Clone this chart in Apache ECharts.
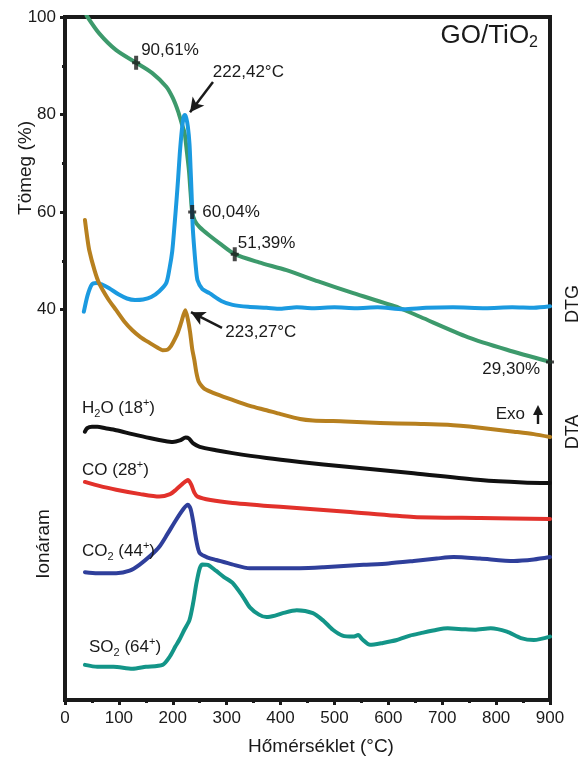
<!DOCTYPE html>
<html>
<head>
<meta charset="utf-8">
<script src="https://cdn.jsdelivr.net/npm/echarts@6/dist/echarts.min.js"></script>
<style>
  html, body { margin: 0; padding: 0; background: #fff; }
  #chart { width: 583px; height: 761px; }
</style>
</head>
<body>
<div id="chart"></div>
<script>
// Temperature axis and mass axis ticks
const xTicks = [0, 100, 200, 300, 400, 500, 600, 700, 800, 900];
const massTickLabels = [40, 60, 80, 100];
const massMinorTicks = [50, 70, 90];

// TG curve: [temperature °C, mass %]
const tgCurve = [[40,100.3],[63,96.7],[95,93.2],[132,90.61],[162,88.5],[188,85.7],[200,83.4],[210,80.6],[217,78],
  [222,76.2],[226,72.5],[230,68.5],[233,64],[236,60.04],[241,58.2],[250,56.9],[268,55.2],[287,53.6],[315,51.39],
  [360,49.7],[411,48.1],[470,45.8],[535,43.4],[620,40.4],[660,38.5],[747,34.4],[820,31.8],[900,29.3]];

// DTG curve (shifted onto the mass scale)
const dtgCurve = [[35,39.6],[42,43],[50,45.2],[58,45.5],[68,45.2],[82,44.4],[100,43.1],[115,42.3],[130,42],[145,42.1],
  [160,42.6],[175,43.8],[188,45.5],[194,48.5],[199,52],[203,57],[207,62.5],[210,67],[213,72],[217,77],[220,79.4],
  [222.42,79.9],[225,79.3],[228,77.5],[231,74],[233,69],[235,63.5],[237,57],[240,52.3],[243,48.5],[246,46],[255,44.2],
  [268,43.4],[290,41.8],[311,41],[340,40.6],[374,40.4],[400,40.2],[430,40.5],[460,40.3],[500,40.5],[540,40.3],
  [580,40.5],[628,40.1],[670,40.4],[720,40.5],[780,40.3],[830,40.5],[870,40.4],[900,40.7]];

// DTA curve
const dtaCurve = [[37,58.4],[41,55],[45,52.2],[55,48],[63,45.5],[80,42.2],[95,39.9],[110,37.6],[125,35.8],[140,34.4],
  [157,33.2],[172,32.2],[181,31.7],[190,31.8],[197,32.6],[204,34],[210,35.5],[216,37.5],[223.27,39.9],[228,38],
  [232,35.5],[236,32],[240,29.7],[244,27],[248,25.3],[255,24.2],[262,23.6],[281,22.7],[311,21.5],[343,20.3],
  [374,19.4],[400,18.6],[436,17.6],[460,17.3],[520,17.1],[585,16.8],[650,16.6],[710,16.4],[770,15.8],[833,15],
  [870,14.5],[900,13.9]];

// Ion current traces (MS)
const h2oCurve = [[37,15.0],[41,15.7],[50,16],[60,16],[75,15.7],[95,15.3],[125,14.5],[157,13.7],[185,13.1],[200,12.9],
  [213,13.2],[224,13.8],[230,13.6],[238,12.6],[250,11.9],[280,11.2],[311,10.6],[374,9.6],[436,8.8],[523,7.8],
  [647,6.5],[771,5.1],[850,4.6],[900,4.5]];
const coCurve = [[37,4.7],[60,4],[95,3.1],[140,2.2],[175,1.7],[195,2.2],[206,3.1],[218,4.3],[228,5.1],[234,4.2],
  [240,2.5],[246,1.7],[270,1.0],[311,0.4],[399,-0.4],[523,-1.4],[647,-2.5],[771,-2.7],[900,-2.9]];
const co2Curve = [[37,-13.8],[60,-14],[95,-14],[120,-13.5],[138,-12.3],[160,-10.3],[175,-8.6],[190,-6],[206,-3.1],
  [220,-0.8],[228,0],[233,-0.8],[238,-3.5],[244,-7.5],[250,-9.9],[265,-10.8],[281,-11.3],[310,-12.2],[343,-13],
  [400,-13],[436,-13],[480,-12.8],[554,-12.3],[600,-12],[647,-11.5],[690,-11],[721,-10.7],[770,-11],[833,-11.5],
  [870,-11.2],[900,-10.7]];
const so2Curve = [[37,-32.8],[60,-33.2],[90,-33.2],[125,-33.6],[150,-33.2],[181,-32.8],[195,-31],[205,-29],[212,-27.7],
  [222,-25.5],[231,-23.6],[238,-20],[244,-16],[250,-13],[255,-12.2],[265,-12.3],[280,-13.5],[295,-14.8],[311,-16],
  [330,-18.8],[343,-21],[360,-22.5],[374,-23],[390,-22.7],[404,-22.2],[430,-21.6],[460,-22.2],[480,-23.8],[497,-25.6],
  [515,-26.8],[535,-27],[544,-26.7],[552,-27.6],[566,-28.7],[590,-28.3],[616,-27.7],[640,-26.8],[660,-26.3],
  [690,-25.6],[710,-25.3],[740,-25.5],[760,-25.6],[790,-25.3],[820,-26],[846,-27.3],[870,-27.7],[900,-27]];

// Marked mass losses on the TG curve and the two peak temperatures
const massMarks = [[132, 90.61], [236, 60.04], [315, 51.39], [900, 29.30]];
const peakMarks = [[222.42, 79.9], [223.27, 39.9]];

const FF = '"Liberation Sans", Arial, Helvetica, sans-serif';
const INK = '#1a1a1a';

const fmtComma = v => v.toFixed(2).replace('.', ',');

// label placement for each mass mark
const massLabelStyle = [
  { align: 'left', offset: [5, -12] },
  { align: 'left', offset: [10, 0] },
  { align: 'left', offset: [3, -11] },
  { align: 'right', offset: [-10, 7] }
];
const peakLabelStyle = [
  { align: 'left', offset: [28, -43] },
  { align: 'left', offset: [40, 22] }
];

function curve(name, data, color, width) {
  return {
    name, type: 'line', data, showSymbol: false, smooth: 0.25,
    lineStyle: { color, width, cap: 'round', join: 'round' },
    itemStyle: { color }, silent: true, animation: false, z: 2
  };
}

// thick vertical bar with a short cross-piece
const crossSymbol = 'path://M2,0H6V5.5H8V8.5H6V14H2V8.5H0V5.5H2Z';

const labelText = { fontSize: 17, fontFamily: FF, color: INK, textBorderWidth: 0, textShadowBlur: 0, opacity: 1 };

const richBase = {
  m:   { fontSize: 17, fontFamily: FF, color: INK, lineHeight: 22 },
  sub: { fontSize: 11, fontFamily: FF, color: INK, lineHeight: 14, verticalAlign: 'bottom' },
  sup: { fontSize: 11, fontFamily: FF, color: INK, lineHeight: 12, verticalAlign: 'top' }
};

function richText(text, x, y, opts) {
  return {
    type: 'text', x, y, z: 10, silent: true,
    style: Object.assign({ text, rich: richBase, align: 'left', verticalAlign: 'middle', fill: INK, font: '17px ' + FF }, opts || {})
  };
}

const chart = echarts.init(document.getElementById('chart'), null, { renderer: 'canvas' });

const option = {
  animation: false,
  backgroundColor: '#fff',
  grid: { left: 65, right: 33, top: 17, bottom: 61, show: true, borderColor: INK, borderWidth: 4, backgroundColor: 'transparent' },
  xAxis: {
    type: 'value', min: xTicks[0], max: xTicks[xTicks.length - 1], interval: 100,
    axisLine: { show: true, onZero: false, lineStyle: { color: INK, width: 4 } },
    axisTick: { show: true, length: 5, lineStyle: { color: INK, width: 3 } },
    minorTick: { show: true, splitNumber: 2, length: 3, lineStyle: { color: INK, width: 3 } },
    splitLine: { show: false },
    axisLabel: { fontSize: 17, fontFamily: FF, color: INK, margin: 10 },
    name: 'Hőmérséklet (°C)', nameLocation: 'middle', nameGap: 37,
    nameTextStyle: { fontSize: 19, fontFamily: FF, color: INK, padding: [0, 0, 0, 27] }
  },
  yAxis: [
    {
      type: 'value', min: -40, max: 100, interval: 20,
      axisLine: { show: true, onZero: false, lineStyle: { color: INK, width: 4 } },
      axisTick: { show: true, customValues: massTickLabels, length: 5, lineStyle: { color: INK, width: 3 } },
      axisLabel: { customValues: massTickLabels, fontSize: 17, fontFamily: FF, color: INK, margin: 9 },
      splitLine: { show: false }
    },
    {
      type: 'value', min: -40, max: 100, interval: 20, position: 'left',
      axisLine: { show: false, onZero: false },
      axisTick: { show: true, customValues: massMinorTicks, length: 3, lineStyle: { color: INK, width: 3 } },
      axisLabel: { show: false },
      splitLine: { show: false }
    }
  ],
  series: [
    curve('TG', tgCurve, '#3d9a6c', 4),
    curve('DTG', dtgCurve, '#1b9ae0', 4),
    curve('DTA', dtaCurve, '#b7801f', 4),
    curve('H2O', h2oCurve, '#111111', 4),
    curve('CO', coCurve, '#e2312b', 4),
    curve('CO2', co2Curve, '#2f3f9b', 4),
    curve('SO2', so2Curve, '#139588', 4),
    {
      name: 'mass marks', type: 'scatter', z: 5, silent: true,
      symbol: crossSymbol, symbolSize: [8, 14],
      itemStyle: { color: INK },
      data: massMarks.map((p, i) => ({
        value: p,
        label: Object.assign({
          show: true, position: 'inside', verticalAlign: 'middle',
          align: massLabelStyle[i].align, offset: massLabelStyle[i].offset,
          formatter: d => fmtComma(d.value[1]) + '%'
        }, labelText)
      }))
    },
    {
      name: 'peaks', type: 'scatter', z: 5, silent: true,
      symbol: 'circle', symbolSize: 1, itemStyle: { color: 'rgba(0,0,0,0)' },
      data: peakMarks.map((p, i) => ({
        value: p,
        label: Object.assign({
          show: true, position: 'inside', verticalAlign: 'middle',
          align: peakLabelStyle[i].align, offset: peakLabelStyle[i].offset,
          formatter: d => fmtComma(d.value[0]) + '°C'
        }, labelText)
      })),
      markLine: {
        silent: true, animation: false,
        symbol: ['none', 'arrow'], symbolSize: [11, 14],
        lineStyle: { color: INK, width: 2.5, type: 'solid' },
        label: { show: false },
        data: [
          [{ coord: [274.6, 86.7] }, { coord: [232, 80.5] }],
          [{ coord: [291.3, 36.3] }, { coord: [233.8, 39.5] }]
        ]
      }
    }
  ],
  graphic: [
    richText('{g|GO/TiO}{gs|2}', 538, 36, {
      align: 'right',
      rich: {
        g: { fontSize: 26, fontFamily: FF, color: INK, lineHeight: 30 },
        gs: { fontSize: 16, fontFamily: FF, color: INK, lineHeight: 19, verticalAlign: 'bottom' }
      }
    }),
    richText('{m|H}{sub|2}{m|O (18}{sup|+}{m|)}', 82, 408),
    richText('{m|CO (28}{sup|+}{m|)}', 82, 470),
    richText('{m|CO}{sub|2}{m| (44}{sup|+}{m|)}', 82, 551),
    richText('{m|SO}{sub|2}{m| (64}{sup|+}{m|)}', 89, 647),
    {
      type: 'text', x: 525, y: 414, silent: true,
      style: { text: 'Exo', align: 'right', verticalAlign: 'middle', font: '17px ' + FF, fill: INK }
    },
    {
      type: 'group', silent: true,
      children: [
        { type: 'polygon', shape: { points: [[538, 405], [533, 415], [543, 415]] }, style: { fill: INK } },
        { type: 'rect', shape: { x: 536.8, y: 413, width: 2.4, height: 11 }, style: { fill: INK } }
      ]
    },
    {
      type: 'text', x: 573, y: 304, rotation: Math.PI / 2, silent: true,
      style: { text: 'DTG', align: 'center', verticalAlign: 'middle', font: '18px ' + FF, fill: INK }
    },
    {
      type: 'text', x: 573, y: 432, rotation: Math.PI / 2, silent: true,
      style: { text: 'DTA', align: 'center', verticalAlign: 'middle', font: '18px ' + FF, fill: INK }
    },
    {
      type: 'text', x: 26, y: 168, rotation: Math.PI / 2, silent: true,
      style: { text: 'Tömeg (%)', align: 'center', verticalAlign: 'middle', font: '19px ' + FF, fill: INK }
    },
    {
      type: 'text', x: 44, y: 544, rotation: Math.PI / 2, silent: true,
      style: { text: 'Ionáram', align: 'center', verticalAlign: 'middle', font: '19px ' + FF, fill: INK }
    }
  ]
};

chart.setOption(option);
</script>
</body>
</html>
